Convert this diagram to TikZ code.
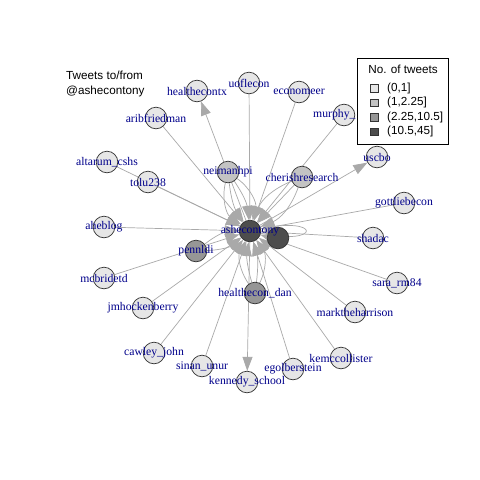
\documentclass[tikz,border=0pt]{standalone}
\usepackage{fontspec}
\setmainfont{Liberation Serif}
\setsansfont{Liberation Sans}
\usetikzlibrary{arrows.meta,backgrounds}

\definecolor{twa}{HTML}{E6E6E6}
\definecolor{twb}{HTML}{C3C3C3}
\definecolor{twc}{HTML}{969696}
\definecolor{twd}{HTML}{4D4D4D}
\definecolor{egray}{HTML}{A9A9A9}
\definecolor{lblue}{HTML}{00008B}

\begin{document}
\begin{tikzpicture}[x=1pt, y=-1pt,
  v/.style={circle, draw=black!80, line width=0.7pt, minimum size=21.6pt, inner sep=0pt, fill=twa},
  lbl/.style={text=lblue, font=\fontsize{11.7}{13}\selectfont, inner sep=0pt},
  every label/.style={lbl},
  edge/.style={draw=egray, line width=0.7pt, -{Triangle[length=14pt,width=10pt]}},
  leg/.style={font=\sffamily\fontsize{11.7}{13}\selectfont, inner sep=0pt}]
\useasboundingbox (0,0) rectangle (480,480);

% vertices
\node[v, fill=twd] (hub2) at (278,238) {};
\node[v, fill=twd, label=center:ashecontony] (ashe) at (250,231) {};
\node[v, label=center:healthecontx] (healthecontx) at (197,91) {};
\node[v, label=center:uoflecon] (uoflecon) at (249,83) {};
\node[v, label=center:economeer] (economeer) at (299,92) {};
\node[v] (murphy) at (344,115) {};
\node[lbl, anchor=west] (murphy-l) at (313,115) {murphy\_};
\node[v, label=center:uscbo] (uscbo) at (377,157) {};
\node[v, fill=twb, label=center:cherishresearch] (cherishresearch) at (302,177) {};
\node[v, fill=twb, label=center:neimanhpi] (neimanhpi) at (228,172) {};
\node[v, label=center:aribfriedman] (aribfriedman) at (156,118) {};
\node[v, label=center:altarum\_cshs] (altarum) at (107,162) {};
\node[v, label=center:tolu238] (tolu) at (148,182) {};
\node[v, label=center:aheblog] (aheblog) at (104,227) {};
\node[v, fill=twc, label=center:pennldi] (pennldi) at (196,251) {};
\node[v, label=center:mcbridetd] (mcbridetd) at (104,278) {};
\node[v, label=center:jmhockenberry] (jmhockenberry) at (143,308) {};
\node[v, fill=twc, label=center:healthecon\_dan] (hdan) at (255,293) {};
\node[v, label=center:gottliebecon] (gottliebecon) at (404,203) {};
\node[v, label=center:shadac] (shadac) at (373,238) {};
\node[v, label=center:sara\_rm84] (sara) at (397,283) {};
\node[v, label=center:marktheharrison] (markh) at (355,312) {};
\node[v, label=center:kemccollister] (kemc) at (341,358) {};
\node[v, label=center:egolberstein] (egol) at (293,369) {};
\node[v, label=center:kennedy\_school] (kennedy) at (247,382) {};
\node[v, label=center:sinan\_unur] (sinan) at (202,366) {};
\node[v, label=center:cawley\_john] (cawley) at (154,353) {};

% edges
\begin{scope}[on background layer]
\fill[white] (0,0) rectangle (480,480);
\draw[edge] (aribfriedman) -- (ashe);
\draw[edge] (altarum) -- (ashe);
\draw[edge] (tolu) -- (ashe);
\draw[edge] (aheblog) -- (ashe);
\draw[edge] (mcbridetd) -- (ashe);
\draw[edge] (jmhockenberry) -- (ashe);
\draw[edge] (cawley) -- (ashe);
\draw[edge] (sinan) -- (ashe);
\draw[edge] (egol) -- (ashe);
\draw[edge] (kemc) -- (ashe);
\draw[edge] (markh) -- (ashe);
\draw[edge] (sara) -- (ashe);
\draw[edge] (shadac) -- (ashe);
\draw[edge] (gottliebecon) -- (ashe);
\draw[edge] (murphy) -- (ashe);
\draw[edge] (economeer) -- (ashe);
\draw[edge] (uoflecon) -- (ashe);
\draw[edge] (cherishresearch) -- (ashe);
\draw[edge] (ashe) -- (healthecontx);
\draw[edge] (ashe) -- (uscbo);
\draw[edge] (ashe) -- (kennedy);
\draw[edge] (neimanhpi) to[bend left=14] (ashe);
\draw[edge] (neimanhpi) to[bend left=34] (ashe);
\draw[edge] (neimanhpi) to[bend right=14] (ashe);
\draw[edge] (neimanhpi) to[bend right=34] (ashe);
\draw[edge] (hdan) to[bend left=12] (ashe);
\draw[edge] (hdan) to[bend left=30] (ashe);
\draw[edge] (hdan) to[bend right=12] (ashe);
\draw[edge] (hdan) to[bend right=30] (ashe);
\draw[edge] (cherishresearch) to[bend left=24] (ashe);
\draw[edge] (cherishresearch) to[bend right=24] (ashe);
\draw[edge] (pennldi) to[bend left=18] (ashe);
\draw[edge] (pennldi) to[bend right=18] (ashe);
\draw[draw=egray, line width=0.7pt] (ashe) to[out=12, in=-12, min distance=62pt] (ashe);
\end{scope}

% title and legend
\node[leg, anchor=west] (title1) at (66,75) {Tweets to/from};
\node[leg, anchor=west] (title2) at (66,91) {@ashecontony};
\node[draw, fill=white, line width=0.7pt, minimum width=91pt, minimum height=86pt, anchor=north west] (legbox) at (357,58) {};
\node[leg] (legtitle) at (403,69) {No. of tweets};
\node[draw=black!80, fill=twa, minimum size=7.5pt, inner sep=0pt] (sqa) at (374,88) {};
\node[leg, anchor=west] (leta) at (387,88) {(0,1]};
\node[draw=black!80, fill=twb, minimum size=7.5pt, inner sep=0pt] (sqb) at (374,102.5) {};
\node[leg, anchor=west] (letb) at (387,102.5) {(1,2.25]};
\node[draw=black!80, fill=twc, minimum size=7.5pt, inner sep=0pt] (sqc) at (374,117) {};
\node[leg, anchor=west] (letc) at (387,117) {(2.25,10.5]};
\node[draw=black!80, fill=twd, minimum size=7.5pt, inner sep=0pt] (sqd) at (374,131.5) {};
\node[leg, anchor=west] (letd) at (387,131.5) {(10.5,45]};
\end{tikzpicture}
\end{document}
